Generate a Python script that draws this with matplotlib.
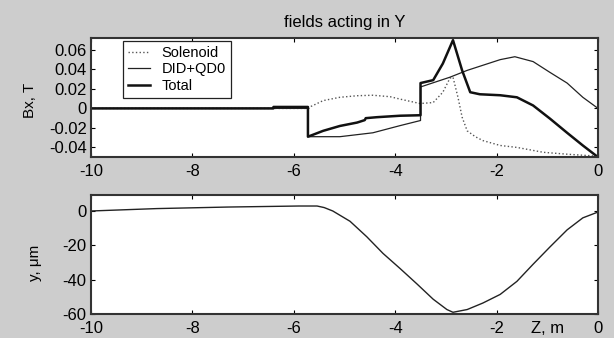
import numpy as np
import matplotlib.pyplot as plt

plt.rcParams['font.family'] = ['Liberation Sans', 'DejaVu Sans']
plt.rcParams['axes.unicode_minus'] = False

# Bx along Z (upper panel)
z_sol = [-10, -5.7, -5.66, -5.42, -5.09, -4.75, -4.44, -4.1, -3.9, -3.51, -3.25,
         -3.06, -2.92, -2.86, -2.76, -2.68, -2.58, -2.42, -2.27, -1.93, -1.6,
         -1.08, -0.6, 0]
bx_sol = [0, 0, 0.002, 0.008, 0.0114, 0.013, 0.0135, 0.012, 0.0095, 0.005, 0.006,
          0.0166, 0.031, 0.032, 0.011, -0.009, -0.023, -0.029, -0.033, -0.038, -0.040,
          -0.045, -0.047, -0.049]

z_did = [-10, -5.72, -5.72, -5.09, -4.44, -3.9, -3.5, -3.5, -2.92, -2.58, -1.93,
         -1.64, -1.28, -0.95, -0.61, -0.30, 0]
bx_did = [0, 0, -0.029, -0.029, -0.025, -0.0176, -0.0124, 0.022, 0.032, 0.039, 0.050,
          0.053, 0.048, 0.037, 0.026, 0.0114, 0.0]

z_tot = [-10, -6.4, -6.4, -5.72, -5.72, -5.42, -5.09, -4.75, -4.6, -4.58, -4.36, -3.9,
         -3.5, -3.5, -3.25, -3.06, -2.86, -2.68, -2.52, -2.33, -1.93, -1.6, -1.28,
         -0.95, -0.61, -0.30, 0]
bx_tot = [0, 0, 0.0015, 0.0015, -0.029, -0.023, -0.018, -0.0145, -0.012, -0.010, -0.009,
          -0.0075, -0.007, 0.026, 0.029, 0.046, 0.070, 0.039, 0.0166, 0.0145, 0.0135,
          0.0114, 0.003, -0.0104, -0.025, -0.038, -0.05]

# y offset along Z (lower panel)
z_y = [-10, -8.7, -7.3, -5.9, -5.54, -5.4, -5.23, -4.89, -4.56, -4.24, -3.9, -3.57,
       -3.25, -2.98, -2.86, -2.58, -2.27, -1.93, -1.6, -1.28, -0.95, -0.61, -0.30, 0]
y_um = [0, 1.4, 2.3, 2.9, 2.9, 2.0, 0, -6, -15, -24.7, -33.6, -42.5,
        -51.4, -57.4, -59, -57.4, -53.6, -48.6, -41, -31, -21, -11, -4, -0.6]

xticks = [-10, -8, -6, -4, -2, 0]
bx_ticks = [-0.04, -0.02, 0, 0.02, 0.04, 0.06]
bx_ticklabels = ['-0.04', '-0.02', '0', '0.02', '0.04', '0.06']
y_ticks = [-60, -40, -20, 0]

fig = plt.figure(figsize=(6.14, 3.38), dpi=100, facecolor='#cdcdcd')
ax1 = fig.add_axes([0.148, 0.535, 0.826, 0.352])
ax2 = fig.add_axes([0.148, 0.071, 0.826, 0.352])

ax1.plot(z_sol, bx_sol, ':', color='#555555', lw=1.0, label='Solenoid')
ax1.plot(z_did, bx_did, '-', color='#222222', lw=0.9, label='DID+QD0')
ax1.plot(z_tot, bx_tot, '-', color='#111111', lw=1.8, label='Total')
ax1.set_xlim(-10, 0)
ax1.set_ylim(-0.05, 0.072)
ax1.set_yticks(bx_ticks)
ax1.set_yticklabels(bx_ticklabels)
ax1.set_title('fields acting in Y', fontsize=12, pad=8)
ax1.text(-0.12, 0.48, 'Bx, T', transform=ax1.transAxes, rotation=90,
         ha='center', va='center', fontsize=11)
leg = ax1.legend(loc='upper left', bbox_to_anchor=(0.063, 0.975), fontsize=10.5,
                 fancybox=False, framealpha=1, edgecolor='#222222',
                 handlelength=1.5, handletextpad=0.8, labelspacing=0.15,
                 borderpad=0.35, borderaxespad=0)
leg.get_frame().set_linewidth(0.9)

ax2.plot(z_y, y_um, '-', color='#222222', lw=1.0)
ax2.set_xlim(-10, 0)
ax2.set_ylim(-60, 9.3)
ax2.set_yticks(y_ticks)
ax2.text(-0.11, 0.43, 'y, \u03bcm', transform=ax2.transAxes, rotation=90,
         ha='center', va='center', fontsize=11)
ax2.text(0.90, -0.06, 'Z, m', transform=ax2.transAxes, ha='center', va='top',
         fontsize=12)

for ax in (ax1, ax2):
    ax.set_xticks(xticks)
    ax.tick_params(direction='in', top=True, right=True, length=3, width=0.8,
                   labelsize=12, pad=3)
    ax.tick_params(axis='x', pad=5)
    for s in ax.spines.values():
        s.set_linewidth(1.5)
        s.set_color('#333333')

fig.savefig('out.png', dpi=100, facecolor=fig.get_facecolor())
